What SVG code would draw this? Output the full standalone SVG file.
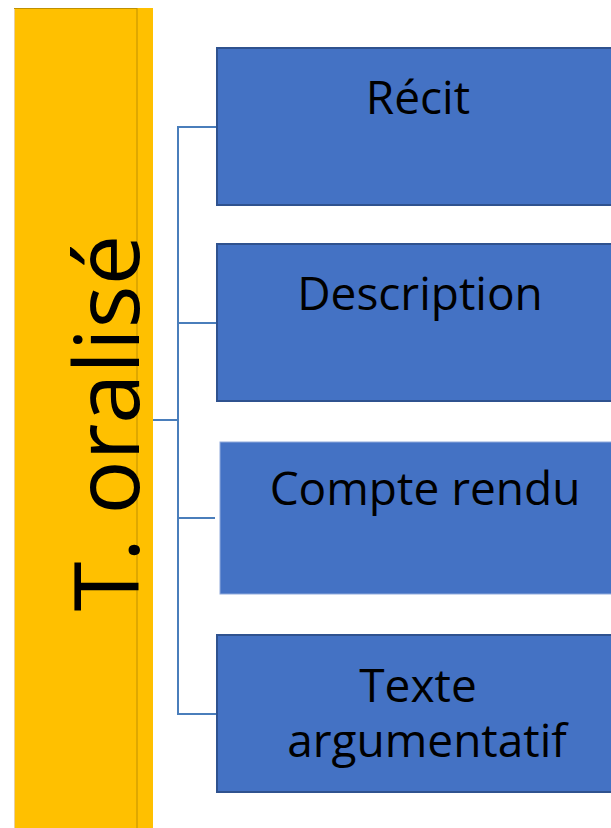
<svg xmlns="http://www.w3.org/2000/svg" width="611" height="828" viewBox="0 0 611 828">
<style>
.box{fill:#4472C4;stroke:#2F528F;stroke-width:2}
.lbl{font-family:"Open Sans","Liberation Sans",sans-serif;font-size:46px;fill:#000;text-anchor:middle}
.con{stroke:#4A7EBB;stroke-width:2;fill:none}
</style>
<rect width="611" height="828" fill="#fff"/>
<g id="main">
<rect x="14" y="8" width="139" height="822" fill="#FFC000"/>
<rect x="14.5" y="8.5" width="122.5" height="822" fill="none" stroke="#BF9000" stroke-width="1"/>
<line x1="14.5" y1="9" x2="14.5" y2="828" stroke="#E8CFA0" stroke-width="1"/>
<text class="lbl" transform="translate(139,423) rotate(-90)" style="font-size:90px">T. oralisé</text>
</g>
<g id="connectors">
<line class="con" x1="153" y1="420" x2="178" y2="420"/>
<line class="con" x1="178" y1="126" x2="178" y2="715"/>
<line class="con" x1="177" y1="127" x2="217" y2="127"/>
<line class="con" x1="177" y1="323" x2="217" y2="323"/>
<line class="con" x1="177" y1="518" x2="215" y2="518"/>
<line class="con" x1="177" y1="714" x2="217" y2="714"/>
</g>
<g id="recit">
<rect class="box" x="217" y="48" width="400" height="157"/>
<text class="lbl" x="418" y="114">Récit</text>
</g>
<g id="description">
<rect class="box" x="217" y="244" width="400" height="157"/>
<text class="lbl" x="420" y="310">Description</text>
</g>
<g id="compte-rendu">
<rect x="220" y="442" width="397" height="152" fill="#4472C4" stroke="#8FAADC" stroke-width="1"/>
<text class="lbl" x="425" y="505">Compte rendu</text>
</g>
<g id="texte-argumentatif">
<rect class="box" x="217" y="635" width="400" height="157"/>
<text class="lbl" x="418" y="702">Texte</text>
<text class="lbl" x="427" y="757">argumentatif</text>
</g>
</svg>
